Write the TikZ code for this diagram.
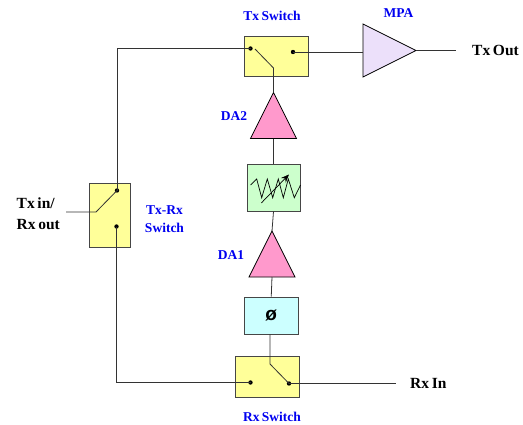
\documentclass[tikz,border=0pt]{standalone}
\usepackage{fontspec}
\setmainfont[WordSpace=0.7]{Liberation Serif}
\newfontfamily\phasefont{Liberation Sans}
\usepackage{xcolor}
\definecolor{switchcol}{RGB}{255, 255, 153}
\definecolor{drivercol}{RGB}{255, 153, 204}
\definecolor{mpacol}{RGB}{236, 224, 250}
\definecolor{attencol}{RGB}{204, 255, 204}
\definecolor{phasecol}{RGB}{204, 255, 255}
\definecolor{boxline}{RGB}{70, 70, 70}
\definecolor{labelblue}{RGB}{0, 0, 240}
\usetikzlibrary{shapes.geometric, arrows.meta, calc}
\tikzset{
    switchbox/.style={rectangle, draw=boxline, fill=switchcol, line width=0.9pt, inner sep=0pt},
    attenbox/.style={rectangle, draw=boxline, fill=attencol, line width=0.9pt, inner sep=0pt, minimum width=53pt, minimum height=47pt},
    phasebox/.style={rectangle, draw=boxline, fill=phasecol, line width=0.9pt, inner sep=0pt, minimum width=54pt, minimum height=37pt, font=\phasefont\bfseries\fontsize{19}{19}\selectfont},
    amp/.style={isosceles triangle, isosceles triangle stretches, draw=black, line width=0.8pt, inner sep=0pt, outer sep=0pt},
    driver/.style={amp, fill=drivercol, shape border rotate=90, minimum width=46pt, minimum height=46pt},
    contact/.style={circle, fill=black, inner sep=0pt, minimum size=4.4pt},
    wire/.style={draw=black!80, line width=0.8pt},
    bluelabel/.style={text=labelblue, font=\bfseries\fontsize{13.5}{18}\selectfont, align=center, inner sep=0pt},
    blacklabel/.style={text=black, font=\bfseries\fontsize{15.5}{21}\selectfont, align=left, inner sep=0pt}
}
\begin{document}
\begin{tikzpicture}[x=1pt, y=-1pt]
        \useasboundingbox (0, 0) rectangle (523, 424);
        % Boxes
        \node[switchbox, minimum width=63.5pt, minimum height=40.5pt] (txsw) at (276.25, 56.25) {};
        \node[switchbox, minimum width=40.5pt, minimum height=64pt] (trsw) at (109.75, 215) {};
        \node[switchbox, minimum width=63.5pt, minimum height=40.5pt] (rxsw) at (267.25, 376.75) {};
        \node[attenbox] (atten) at (273.5, 187.5) {};
        \node[phasebox] (phase) at (271.25, 315.5) {ø};

        % Amplifiers
        \node[driver, anchor=apex] (da2) at (273.5, 92.5) {};
        \node[driver, anchor=apex] (da1) at (272, 231) {};
        \node[amp, fill=mpacol, minimum width=53pt, minimum height=53pt, anchor=apex] (mpa) at (416, 50.5) {};

        % Switch contacts
        \node[contact] (txa) at (250.5, 48.5) {};
        \node[contact] (txb) at (293, 52) {};
        \node[contact] (tra) at (117, 190.5) {};
        \node[contact] (trb) at (116.5, 226.5) {};
        \node[contact] (rxa) at (250.5, 382.5) {};
        \node[contact] (rxb) at (289, 383.5) {};

        % Free ends and corners
        \coordinate (txbreak) at (255, 49);
        \coordinate (txpole) at (273.5, 68);
        \coordinate (rxpole) at (270, 364);
        \coordinate (trpole) at (96, 212);
        \coordinate (trin) at (66, 212);
        \coordinate (topleft) at (117, 48.5);
        \coordinate (botleft) at (116.5, 382.5);
        \coordinate (txend) at (456, 50.5);
        \coordinate (rxend) at (396, 383.5);

        % Wires
        \draw[wire] (txa.center) -- (topleft) -- (tra.center);
        \draw[wire] (trb.center) -- (botleft) -- (rxa.center);
        \draw[wire] (tra.center) -- (trpole) -- (trin);
        \draw[wire] (txbreak) -- (txpole) -- (da2.apex);
        \draw[wire] (txb.center) -- (mpa.west |- txb.center);
        \draw[wire] (mpa.apex) -- (txend);
        \draw[wire] (da2.south) -- (atten.north);
        \draw[wire] (atten.south) -- (da1.apex);
        \draw[wire] (da1.south) -- (phase.north);
        \draw[wire] (rxpole |- phase.south) -- (rxpole) -- (rxb.center);
        \draw[wire] (rxb.center) -- (rxend);

        % Variable attenuator symbol
        \draw[black, line width=0.7pt] (250.7, 185) -- (256.7, 179) -- (261.7, 197.7) -- (267.3, 179) -- (272.7, 197.7) -- (278.3, 179) -- (283.3, 197.7) -- (288.3, 179) -- (294.3, 197.7) -- (300.5, 185);
        \draw[black, line width=0.7pt, -{Stealth[length=8pt, width=6.5pt]}] (261.3, 203) -- (289, 174.5);

        % Labels
        \node[bluelabel] (txswlabel) at (272, 15.5) {Tx Switch};
        \node[bluelabel] (mpalabel) at (398.5, 13.5) {MPA};
        \node[bluelabel] (da2label) at (234, 116.5) {DA2};
        \node[bluelabel] (da1label) at (231, 255.5) {DA1};
        \node[bluelabel] (trswlabel) at (164.5, 219) {Tx-Rx\\Switch};
        \node[bluelabel] (rxswlabel) at (272, 417) {Rx Switch};
        \node[blacklabel, anchor=west] (txout) at (472, 50.5) {Tx Out};
        \node[blacklabel, anchor=west] (rxin) at (410, 383.5) {Rx In};
        \node[blacklabel, anchor=west] (trport) at (16.5, 213.5) {Tx in/\\Rx out};
    \end{tikzpicture}
\end{document}
